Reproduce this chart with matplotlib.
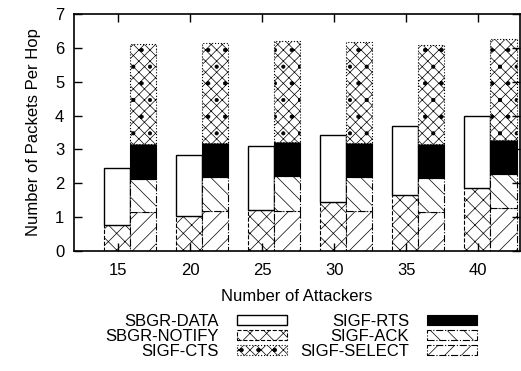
import numpy as np
import matplotlib
matplotlib.use('Agg')
import matplotlib.pyplot as plt

plt.rcParams['font.family'] = ['Liberation Sans', 'DejaVu Sans']
plt.rcParams['font.size'] = 12
plt.rcParams['hatch.linewidth'] = 0.5

# Data (packets per hop)
attackers = ['15', '20', '25', '30', '35', '40']
sbgr_notify = [0.75, 1.03, 1.22, 1.44, 1.65, 1.86]
sbgr_data = [1.69, 1.81, 1.88, 1.97, 2.04, 2.14]
sigf_select = [1.14, 1.17, 1.18, 1.18, 1.14, 1.26]
sigf_ack = [0.98, 1.00, 1.03, 1.01, 1.02, 1.01]
sigf_rts = [1.04, 1.03, 1.01, 1.01, 1.00, 1.01]
sigf_cts = [2.97, 2.95, 2.97, 2.97, 2.94, 2.97]

fig = plt.figure(figsize=(5.21, 3.71), dpi=100)
ax = fig.add_axes([0.142, 0.324, 0.856, 0.638])

x = np.arange(len(attackers))
w = 0.365
xl = x - 0.015
xr = xl + w

# SBGR stacked bar (left)
b1 = ax.bar(xl, sbgr_notify, w, color='white', edgecolor='black', hatch='xx',
            linestyle='--', linewidth=0.8, label='SBGR-NOTIFY')
b0 = ax.bar(xl, sbgr_data, w, bottom=sbgr_notify, color='white', edgecolor='black',
            linewidth=1.0, label='SBGR-DATA')

# SIGF stacked bar (right)
bottom = np.zeros(len(x))
b5 = ax.bar(xr, sigf_select, w, bottom=bottom, color='white', edgecolor='black',
            hatch='//', linestyle='-.', linewidth=0.8, label='SIGF-SELECT')
bottom = bottom + np.array(sigf_select)
b4 = ax.bar(xr, sigf_ack, w, bottom=bottom, color='white', edgecolor='black',
            hatch='\\\\', linestyle='-.', linewidth=0.8, label='SIGF-ACK')
bottom = bottom + np.array(sigf_ack)
b3 = ax.bar(xr, sigf_rts, w, bottom=bottom, color='black', edgecolor='black',
            linewidth=0.8, label='SIGF-RTS')
bottom = bottom + np.array(sigf_rts)
b2 = ax.bar(xr, sigf_cts, w, bottom=bottom, color='white', edgecolor='black',
            hatch='xxx.', linestyle=':', linewidth=0.8, label='SIGF-CTS')

ax.set_xlim(-0.61, 5.58)
ax.set_ylim(0, 7)
ax.set_xticks(x)
ax.set_xticklabels(attackers)
ax.set_yticks(range(8))
ax.set_xlabel('Number of Attackers', labelpad=8)
ax.set_ylabel('Number of Packets Per Hop', labelpad=10)
ax.tick_params(direction='in', length=6, width=1, top=True, right=True)
ax.tick_params(axis='x', pad=9)
ax.tick_params(axis='y', pad=7)
for s in ax.spines.values():
    s.set_linewidth(1.2)

fig.legend([b0, b1, b2, b3, b4, b5],
           ['SBGR-DATA', 'SBGR-NOTIFY', 'SIGF-CTS', 'SIGF-RTS', 'SIGF-ACK', 'SIGF-SELECT'],
           ncol=2, markerfirst=False, frameon=False, loc='upper left',
           bbox_to_anchor=(105 / 521, 1 - 314 / 371), borderpad=0,
           labelspacing=0.0, handlelength=3.0, handleheight=0.6,
           handletextpad=1.1, columnspacing=0.8, borderaxespad=0)

fig.savefig('out.png', dpi=100)
